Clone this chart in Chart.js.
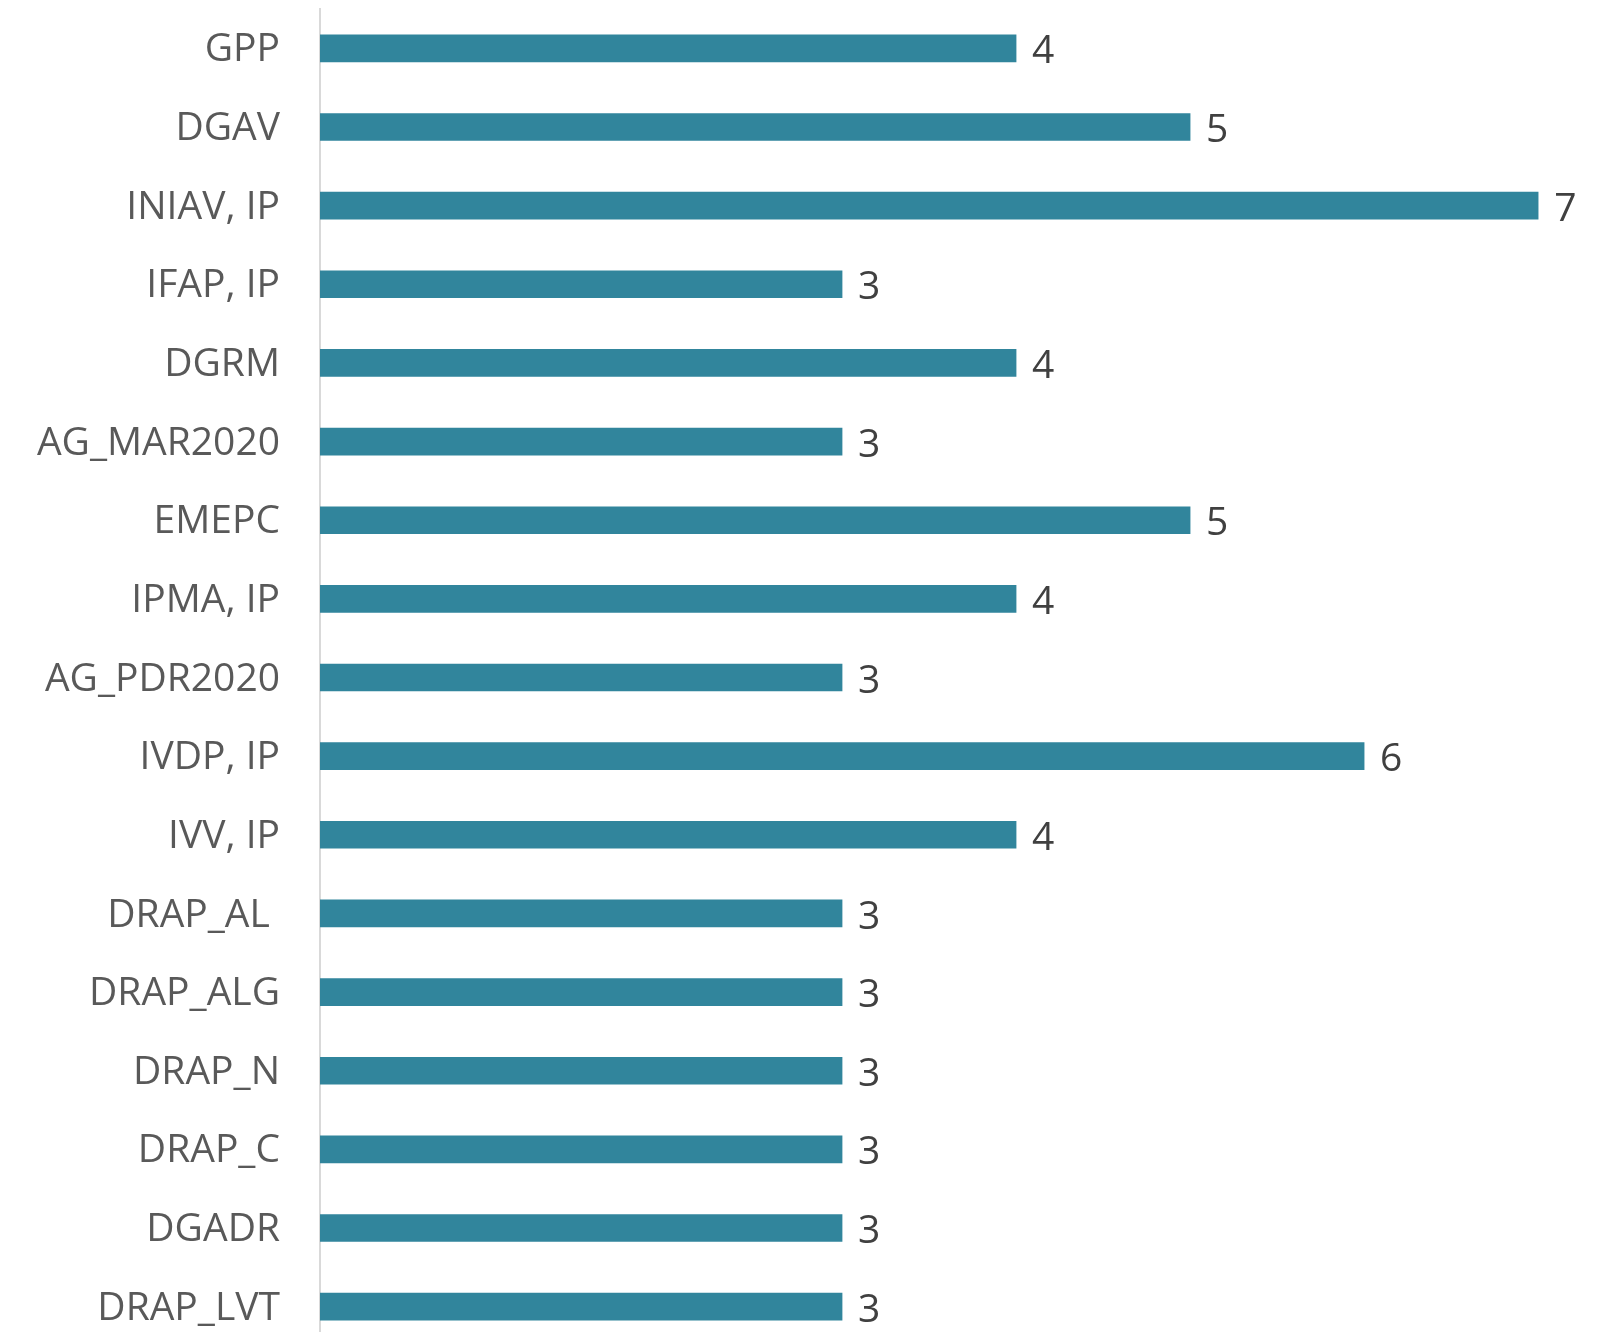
<!DOCTYPE html>
<html>
<head>
<meta charset="utf-8">
<script src="https://cdn.jsdelivr.net/npm/chart.js@4/dist/chart.umd.min.js"></script>
<style>
  html, body { margin: 0; padding: 0; background: #fff; overflow: hidden; }
  #wrap { width: 1606px; height: 1360px; position: relative; }
</style>
</head>
<body>
<div id="wrap"><canvas id="barChart"></canvas></div>
<script>
// --- DATA ---
const categories = [
    "GPP", "DGAV", "INIAV, IP", "IFAP, IP", "DGRM", "AG_MAR2020", "EMEPC",
    "IPMA, IP", "AG_PDR2020", "IVDP, IP", "IVV, IP", "DRAP_AL ", "DRAP_ALG",
    "DRAP_N", "DRAP_C", "DGADR", "DRAP_LVT"
];
const counts = [4, 5, 7, 3, 4, 3, 5, 4, 3, 6, 4, 3, 3, 3, 3, 3, 3];

const BAR_COLOR = "#31859C";
const LABEL_FONT = "'Open Sans', 'Noto Sans', sans-serif";

// draws the value next to the end of each bar
const valueLabels = {
    id: "valueLabels",
    afterDatasetsDraw(chart) {
        const ctx = chart.ctx;
        const meta = chart.getDatasetMeta(0);
        ctx.save();
        ctx.font = "39px " + LABEL_FONT;
        ctx.fillStyle = "#404040";
        ctx.textAlign = "left";
        ctx.textBaseline = "middle";
        meta.data.forEach((bar, i) => {
            ctx.fillText(String(chart.data.datasets[0].data[i]), bar.x + 16, bar.y + 4);
        });
        ctx.restore();
    }
};

let myChart;
document.addEventListener("DOMContentLoaded", () => {
    const ctx = document.getElementById("barChart").getContext("2d");
    myChart = new Chart(ctx, {
        type: "bar",
        data: {
            labels: categories,
            datasets: [{
                data: counts,
                backgroundColor: BAR_COLOR,
                borderWidth: 0,
                barThickness: 27
            }]
        },
        options: {
            indexAxis: "y",
            responsive: true,
            maintainAspectRatio: false,
            animation: false,
            layout: { padding: { top: 9, bottom: 14, left: 0, right: 0 } },
            scales: {
                x: { display: false, min: 0, max: 7.39 },
                y: {
                    grid: { display: false, drawTicks: false },
                    border: { display: true, color: "#d9d9d9", width: 2 },
                    ticks: {
                        padding: 40,
                        labelOffset: 2,
                        color: "#595959",
                        font: { family: LABEL_FONT, size: 39 }
                    },
                    afterFit(scale) {
                        // keep the axis at x=320 and stop the labels from padding the chart area
                        scale.width = 320;
                        scale.paddingTop = 0;
                        scale.paddingBottom = 0;
                    }
                }
            },
            plugins: {
                legend: { display: false },
                tooltip: { enabled: false }
            }
        },
        plugins: [valueLabels]
    });
});
</script>
</body>
</html>
